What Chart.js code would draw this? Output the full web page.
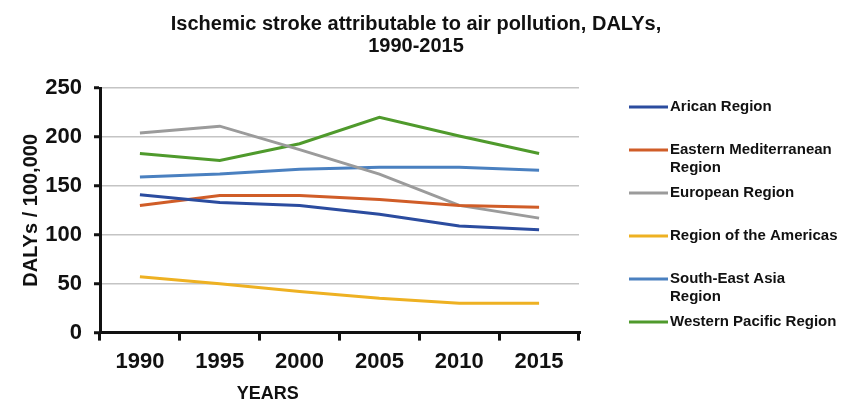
<!DOCTYPE html>
<html>
<head>
<meta charset="utf-8">
<script src="https://cdn.jsdelivr.net/npm/chart.js@4"></script>
<style>
  html, body { margin: 0; padding: 0; background: #fff; }
  #wrap { position: relative; width: 853px; height: 401px; }
</style>
</head>
<body>
<div id="wrap"><canvas id="strokeChart"></canvas></div>
<script>
const years = ['1990', '1995', '2000', '2005', '2010', '2015'];
const african = [141, 133, 130, 121, 109, 105];
const easternMed = [130, 140, 140, 136, 130, 128];
const european = [204, 211, 187, 162, 130, 117];
const americas = [57, 50, 42, 35, 30, 30];
const southEastAsia = [159, 162, 167, 169, 169, 166];
const westernPacific = [183, 176, 193, 220, 201, 183];

const seriesNames = [
    ['Arican Region'],
    ['Eastern Mediterranean', 'Region'],
    ['European Region'],
    ['Region of the Americas'],
    ['South-East Asia', 'Region'],
    ['Western Pacific Region']
];
const seriesColors = ['#2b4c9f', '#d05d28', '#9b9b9b', '#eeb122', '#4a80c0', '#4f9a2c'];

const FONT = "'Liberation Sans', Arial, sans-serif";

// legend + x axis title drawn by hand (legend items wrap and YEARS sits off-centre)
const sideLegend = {
    id: 'sideLegend',
    afterDraw(chart) {
        const ctx = chart.ctx;
        const area = chart.chartArea;
        ctx.save();
        ctx.font = 'bold 15px ' + FONT;
        ctx.textBaseline = 'middle';
        ctx.textAlign = 'left';
        chart.data.datasets.forEach((ds, i) => {
            const y = area.top + 19 + i * 43;
            ctx.strokeStyle = ds.borderColor;
            ctx.lineWidth = 3;
            ctx.beginPath();
            ctx.moveTo(area.right + 50, y);
            ctx.lineTo(area.right + 89, y);
            ctx.stroke();
            ctx.fillStyle = '#111';
            seriesNames[i].forEach((line, k) => {
                ctx.fillText(line, area.right + 91, y + k * 18);
            });
        });
        const xs = chart.scales.x;
        ctx.font = 'bold 18px ' + FONT;
        ctx.textAlign = 'center';
        ctx.fillText('YEARS', xs.left + (xs.right - xs.left) * 0.35, xs.bottom + 11);
        ctx.restore();
    }
};

const ctx = document.getElementById('strokeChart').getContext('2d');
new Chart(ctx, {
    type: 'line',
    data: {
        labels: years,
        datasets: [african, easternMed, european, americas, southEastAsia, westernPacific].map((vals, i) => ({
            label: seriesNames[i].join(' '),
            data: vals,
            borderColor: seriesColors[i],
            backgroundColor: seriesColors[i],
            borderWidth: 3,
            pointRadius: 0,
            tension: 0,
            yAxisID: 'y'
        }))
    },
    options: {
        responsive: true,
        maintainAspectRatio: false,
        animation: false,
        layout: { padding: { left: 19, right: 40, top: 0, bottom: 18 } },
        plugins: {
            legend: { display: false },
            tooltip: { enabled: false },
            title: {
                display: true,
                text: ['Ischemic stroke attributable to air pollution, DALYs,', '1990-2015'],
                color: '#111',
                font: { family: FONT, size: 20, weight: 'bold', lineHeight: 1.1 },
                padding: { top: 13, bottom: 31 }
            }
        },
        scales: {
            x: {
                type: 'category',
                offset: true,
                grid: {
                    offset: true,
                    drawOnChartArea: false,
                    color: '#111',
                    lineWidth: 3,
                    tickLength: 8
                },
                border: { color: '#111', width: 3 },
                ticks: {
                    color: '#111',
                    padding: 8,
                    font: { family: FONT, size: 22, weight: 'bold' }
                }
            },
            y: {
                min: 0,
                max: 250,
                afterFit(scale) { scale.width = 81; },
                ticks: {
                    stepSize: 50,
                    color: '#111',
                    padding: 12,
                    font: { family: FONT, size: 22, weight: 'bold' }
                },
                grid: {
                    color: '#c4c4c4',
                    lineWidth: 1.5,
                    tickColor: '#111',
                    tickWidth: 3,
                    tickLength: 6
                },
                border: { color: '#111', width: 3 },
                title: {
                    display: true,
                    text: 'DALYs / 100,000',
                    color: '#111',
                    font: { family: FONT, size: 20, weight: 'bold' },
                    padding: { top: 0, bottom: 1 }
                }
            },
            side: {
                type: 'linear',
                position: 'right',
                display: true,
                grid: { display: false },
                border: { display: false },
                ticks: { display: false },
                afterFit(scale) { scale.width = 234; }
            }
        }
    },
    plugins: [sideLegend]
});
</script>
</body>
</html>
